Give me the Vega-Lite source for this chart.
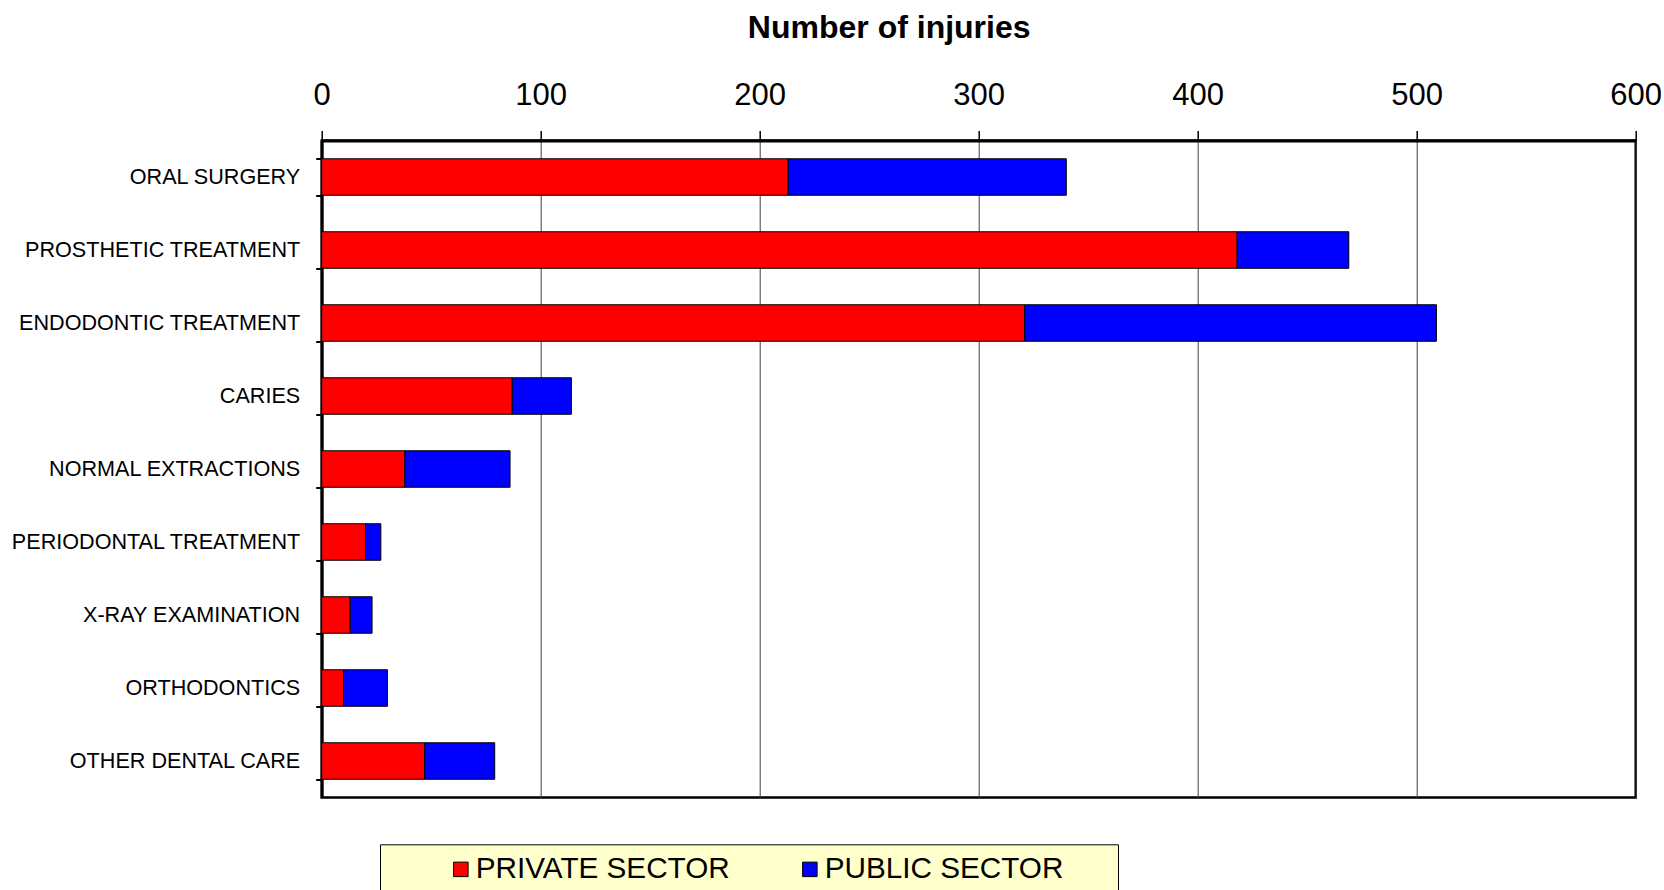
{
  "$schema": "https://vega.github.io/schema/vega-lite/v6.json",
  "width": 1314,
  "height": 657,
  "autosize": {"type": "none"},
  "padding": {"left": 321.7, "top": 140.5, "right": 28.3, "bottom": 92.5},
  "background": "white",
  "config": {
    "font": "Liberation Sans",
    "view": {"stroke": "black", "strokeWidth": 2.5}
  },
  "data": {
    "values": [
      {"category": "ORAL SURGERY", "sector": "PRIVATE SECTOR", "value": 213},
      {"category": "ORAL SURGERY", "sector": "PUBLIC SECTOR", "value": 127},
      {"category": "PROSTHETIC TREATMENT", "sector": "PRIVATE SECTOR", "value": 418},
      {"category": "PROSTHETIC TREATMENT", "sector": "PUBLIC SECTOR", "value": 51},
      {"category": "ENDODONTIC TREATMENT", "sector": "PRIVATE SECTOR", "value": 321},
      {"category": "ENDODONTIC TREATMENT", "sector": "PUBLIC SECTOR", "value": 188},
      {"category": "CARIES", "sector": "PRIVATE SECTOR", "value": 87},
      {"category": "CARIES", "sector": "PUBLIC SECTOR", "value": 27},
      {"category": "NORMAL EXTRACTIONS", "sector": "PRIVATE SECTOR", "value": 38},
      {"category": "NORMAL EXTRACTIONS", "sector": "PUBLIC SECTOR", "value": 48},
      {"category": "PERIODONTAL TREATMENT", "sector": "PRIVATE SECTOR", "value": 20},
      {"category": "PERIODONTAL TREATMENT", "sector": "PUBLIC SECTOR", "value": 7},
      {"category": "X-RAY EXAMINATION", "sector": "PRIVATE SECTOR", "value": 13},
      {"category": "X-RAY EXAMINATION", "sector": "PUBLIC SECTOR", "value": 10},
      {"category": "ORTHODONTICS", "sector": "PRIVATE SECTOR", "value": 10},
      {"category": "ORTHODONTICS", "sector": "PUBLIC SECTOR", "value": 20},
      {"category": "OTHER DENTAL CARE", "sector": "PRIVATE SECTOR", "value": 47},
      {"category": "OTHER DENTAL CARE", "sector": "PUBLIC SECTOR", "value": 32}
    ]
  },
  "mark": {"type": "bar", "stroke": "black", "strokeWidth": 1},
  "encoding": {
    "y": {
      "field": "category",
      "type": "nominal",
      "sort": ["ORAL SURGERY", "PROSTHETIC TREATMENT", "ENDODONTIC TREATMENT", "CARIES", "NORMAL EXTRACTIONS", "PERIODONTAL TREATMENT", "X-RAY EXAMINATION", "ORTHODONTICS", "OTHER DENTAL CARE"],
      "scale": {"paddingInner": 0.5, "paddingOuter": 0.25},
      "axis": {
        "title": null,
        "labelFontSize": 21.6,
        "labelColor": "black",
        "labelLimit": 400,
        "labelPadding": 16,
        "tickBand": "extent",
        "tickSize": 6,
        "tickWidth": 2,
        "tickColor": "black",
        "domainColor": "black",
        "domainWidth": 3,
        "grid": false
      }
    },
    "x": {
      "field": "value",
      "type": "quantitative",
      "stack": "zero",
      "scale": {"domain": [0, 600], "nice": false},
      "axis": {
        "orient": "top",
        "title": "Number of injuries",
        "titleFontSize": 32,
        "titleFontWeight": "bold",
        "titleColor": "black",
        "titlePadding": 35,
        "titleX": 567,
        "titleAlign": "center",
        "values": [0, 100, 200, 300, 400, 500, 600],
        "labelFontSize": 31,
        "labelColor": "black",
        "labelPadding": 19,
        "labelFlush": false,
        "labelOverlap": false,
        "tickSize": 10,
        "tickWidth": 1.5,
        "tickColor": "black",
        "domainColor": "black",
        "domainWidth": 3,
        "grid": true,
        "gridColor": "#404040",
        "gridWidth": 1
      }
    },
    "color": {
      "field": "sector",
      "type": "nominal",
      "scale": {"domain": ["PRIVATE SECTOR", "PUBLIC SECTOR"], "range": ["#FF0000", "#0000FF"]},
      "legend": {
        "orient": "none",
        "direction": "horizontal",
        "legendX": 58.3,
        "legendY": 703.8,
        "title": " ",
        "titleOrient": "left",
        "titleFontSize": 29,
        "titlePadding": 56,
        "fillColor": "#FFFFCC",
        "strokeColor": "black",
        "padding": 10,
        "symbolType": "square",
        "symbolSize": 210,
        "symbolStrokeColor": "black",
        "symbolStrokeWidth": 1,
        "symbolOpacity": 1,
        "labelFontSize": 29.7,
        "labelColor": "black",
        "labelLimit": 0,
        "labelOffset": 0,
        "columnPadding": 65,
        "labelExpr": "datum.label == 'PUBLIC SECTOR' ? datum.label + '\u2800\u2800' : datum.label"
      }
    },
    "order": {"field": "sector", "type": "nominal", "sort": "ascending"}
  }
}
